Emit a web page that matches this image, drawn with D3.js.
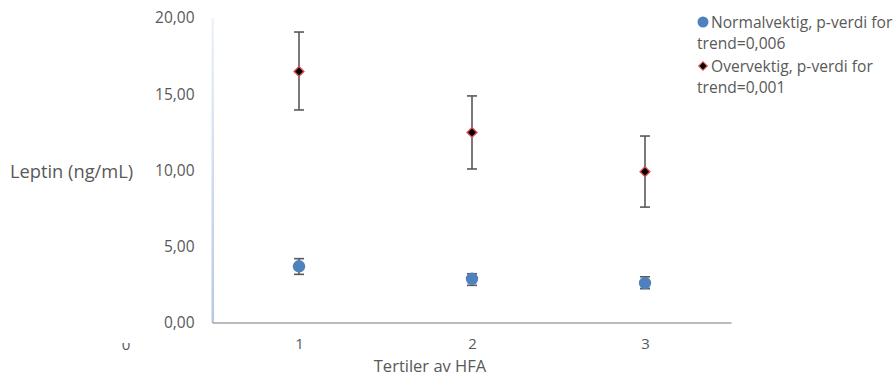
<!DOCTYPE html>
<html><head><meta charset="utf-8">
<script src="https://cdn.jsdelivr.net/npm/d3@7"></script>
<style>body{margin:0;background:#fff}svg{display:block}text{font-family:"Open Sans",sans-serif;fill:#595959}</style>
</head><body>
<svg id="c" width="895" height="378"></svg>
<script>
const categories = [1, 2, 3];
const normalMean = [3.72, 2.90, 2.62];
const normalLow = [3.19, 2.47, 2.25];
const normalHigh = [4.22, 3.23, 3.03];
const overMean = [16.5, 12.5, 9.92];
const overLow = [13.97, 10.1, 7.6];
const overHigh = [19.08, 14.89, 12.26];
const yTicks = [0, 5, 10, 15, 20];
const legendLabels = [["Normalvektig, p-verdi for", "trend=0,006"], ["Overvektig, p-verdi for", "trend=0,001"]];

const svg = d3.select("#c");
const x = d3.scaleLinear().domain([0, 1]).range([126, 299]);
const y = d3.scaleLinear().domain([0, 20]).range([323, 18]);
const fmt = v => d3.format(".2f")(v).replace(".", ",");
const tickFont = 15.5;

// y axis gradient line
const defs = svg.append("defs");
const g = defs.append("linearGradient").attr("id", "yg").attr("x1", 0).attr("y1", 0).attr("x2", 0).attr("y2", 1);
g.append("stop").attr("offset", "0%").attr("stop-color", "#eef3fa");
g.append("stop").attr("offset", "100%").attr("stop-color", "#b4c8e4");
svg.append("rect").attr("x", x(0.5) - 1).attr("y", y(20)).attr("width", 2.5).attr("height", y(0) - y(20)).attr("fill", "url(#yg)");

// y tick labels
const yAxis = d3.axisLeft(y).tickValues(yTicks).tickFormat(fmt).tickSize(0).tickPadding(18);
const ya = svg.append("g").attr("transform", `translate(${x(0.5)},0)`).call(yAxis);
ya.select(".domain").remove();
ya.selectAll("text").attr("font-size", tickFont).attr("fill", "#595959").attr("font-family", "Open Sans");

// x axis
svg.append("line").attr("x1", x(0.5)).attr("x2", x(3.5)).attr("y1", y(0)).attr("y2", y(0)).attr("stroke", "#a6a6a6").attr("stroke-width", 1.5);
const xAxis = d3.axisBottom(x).tickValues(categories).tickFormat(d3.format("d")).tickSize(0).tickPadding(15);
const xa = svg.append("g").attr("transform", `translate(0,${y(0)})`).call(xAxis);
xa.select(".domain").remove();
xa.selectAll("text").attr("font-size", 15).attr("fill", "#595959").attr("font-family", "Open Sans");

// clipped "0" label at left
defs.append("clipPath").attr("id", "zc").append("rect").attr("x", 100).attr("y", 343).attr("width", 60).attr("height", 10);
svg.append("text").attr("x", x(0)).attr("y", 350).attr("text-anchor", "middle").attr("font-size", 15).attr("clip-path", "url(#zc)").text("0");

// axis titles
svg.append("text").attr("x", 10).attr("y", 178).attr("font-size", 18.3).text("Leptin (ng/mL)");
svg.append("text").attr("x", 430).attr("y", 372).attr("text-anchor", "middle").attr("font-size", 16.5).text("Tertiler av HFA");

// error bars
function errBars(lo, hi) {
  const eg = svg.append("g").attr("stroke", "#595959").attr("stroke-width", 1.6);
  categories.forEach((c, i) => {
    eg.append("line").attr("x1", x(c)).attr("x2", x(c)).attr("y1", y(lo[i])).attr("y2", y(hi[i]));
    [lo[i], hi[i]].forEach(v => eg.append("line").attr("x1", x(c) - 5).attr("x2", x(c) + 5).attr("y1", y(v)).attr("y2", y(v)));
  });
}
errBars(overLow, overHigh);
errBars(normalLow, normalHigh);

svg.append("g").selectAll("path").data(categories).join("path")
  .attr("transform", (c, i) => `translate(${x(c)},${y(overMean[i])}) rotate(45)`)
  .attr("d", d3.symbol().type(d3.symbolSquare).size(48)())
  .attr("fill", "#000").attr("stroke", "#d9534f").attr("stroke-width", 1.4);
svg.append("g").selectAll("circle").data(categories).join("circle")
  .attr("cx", c => x(c)).attr("cy", (c, i) => y(normalMean[i])).attr("r", 6.2).attr("fill", "#4f81bd");

// legend
const lg = svg.append("g");
lg.append("circle").attr("cx", 703).attr("cy", 22).attr("r", 5.5).attr("fill", "#4f81bd");
lg.append("path").attr("transform", "translate(703,66) rotate(45)").attr("d", d3.symbol().type(d3.symbolSquare).size(36)()).attr("fill", "#000").attr("stroke", "#d9534f").attr("stroke-width", 1.2);
legendLabels.forEach((lines, k) => {
  lines.forEach((t, j) => {
    lg.append("text").attr("x", j === 0 ? 711 : 697).attr("y", 28 + k * 44 + j * 21).attr("font-size", 15.6).text(t);
  });
});
</script>
</body></html>
